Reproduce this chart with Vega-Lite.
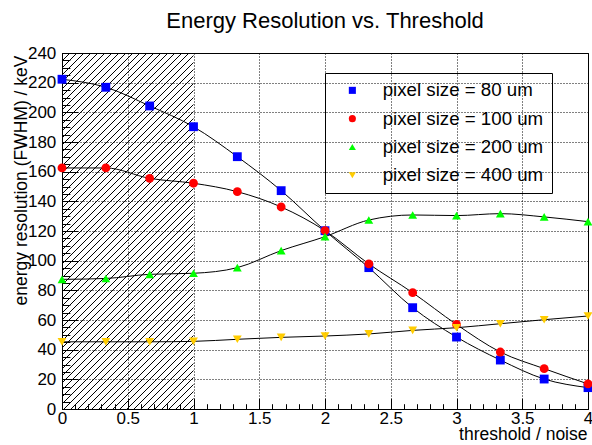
{
  "$schema": "https://vega.github.io/schema/vega-lite/v6.json",
  "width": 526,
  "height": 356,
  "autosize": {"type": "none"},
  "padding": {"left": 62, "top": 53, "right": 4, "bottom": 36},
  "background": "white",
  "config": {
    "font": "Liberation Sans",
    "view": {"stroke": "black", "strokeWidth": 1}
  },
  "title": {
    "text": "Energy Resolution vs. Threshold",
    "fontSize": 22,
    "fontWeight": "normal",
    "color": "black",
    "anchor": "middle",
    "frame": "group",
    "baseline": "alphabetic",
    "offset": 25,
    "dy": 31
  },
  "datasets": {
    "res": [
      {"series": "pixel size = 80 um", "t": 0, "res": 222.3},
      {"series": "pixel size = 80 um", "t": 0.3333, "res": 216.9},
      {"series": "pixel size = 80 um", "t": 0.6667, "res": 204.3},
      {"series": "pixel size = 80 um", "t": 1, "res": 190.3},
      {"series": "pixel size = 80 um", "t": 1.3333, "res": 170.1},
      {"series": "pixel size = 80 um", "t": 1.6667, "res": 147.2},
      {"series": "pixel size = 80 um", "t": 2, "res": 120.2},
      {"series": "pixel size = 80 um", "t": 2.3333, "res": 95.3},
      {"series": "pixel size = 80 um", "t": 2.6667, "res": 68.3},
      {"series": "pixel size = 80 um", "t": 3, "res": 48.5},
      {"series": "pixel size = 80 um", "t": 3.3333, "res": 33.0},
      {"series": "pixel size = 80 um", "t": 3.6667, "res": 20.2},
      {"series": "pixel size = 80 um", "t": 4, "res": 14.4},
      {"series": "pixel size = 100 um", "t": 0, "res": 162.5},
      {"series": "pixel size = 100 um", "t": 0.3333, "res": 162.5},
      {"series": "pixel size = 100 um", "t": 0.6667, "res": 155.5},
      {"series": "pixel size = 100 um", "t": 1, "res": 152.2},
      {"series": "pixel size = 100 um", "t": 1.3333, "res": 146.5},
      {"series": "pixel size = 100 um", "t": 1.6667, "res": 136.2},
      {"series": "pixel size = 100 um", "t": 2, "res": 120.2},
      {"series": "pixel size = 100 um", "t": 2.3333, "res": 97.8},
      {"series": "pixel size = 100 um", "t": 2.6667, "res": 78.4},
      {"series": "pixel size = 100 um", "t": 3, "res": 57.0},
      {"series": "pixel size = 100 um", "t": 3.3333, "res": 38.4},
      {"series": "pixel size = 100 um", "t": 3.6667, "res": 27.2},
      {"series": "pixel size = 100 um", "t": 4, "res": 16.9},
      {"series": "pixel size = 200 um", "t": 0, "res": 87.4},
      {"series": "pixel size = 200 um", "t": 0.3333, "res": 88.0},
      {"series": "pixel size = 200 um", "t": 0.6667, "res": 90.8},
      {"series": "pixel size = 200 um", "t": 1, "res": 91.5},
      {"series": "pixel size = 200 um", "t": 1.3333, "res": 95.3},
      {"series": "pixel size = 200 um", "t": 1.6667, "res": 106.8},
      {"series": "pixel size = 200 um", "t": 2, "res": 116.2},
      {"series": "pixel size = 200 um", "t": 2.3333, "res": 127.4},
      {"series": "pixel size = 200 um", "t": 2.6667, "res": 130.8},
      {"series": "pixel size = 200 um", "t": 3, "res": 130.4},
      {"series": "pixel size = 200 um", "t": 3.3333, "res": 131.7},
      {"series": "pixel size = 200 um", "t": 3.6667, "res": 129.5},
      {"series": "pixel size = 200 um", "t": 4, "res": 126.3},
      {"series": "pixel size = 400 um", "t": 0, "res": 45.3},
      {"series": "pixel size = 400 um", "t": 0.3333, "res": 45.3},
      {"series": "pixel size = 400 um", "t": 0.6667, "res": 45.3},
      {"series": "pixel size = 400 um", "t": 1, "res": 45.6},
      {"series": "pixel size = 400 um", "t": 1.3333, "res": 47.0},
      {"series": "pixel size = 400 um", "t": 1.6667, "res": 48.3},
      {"series": "pixel size = 400 um", "t": 2, "res": 49.2},
      {"series": "pixel size = 400 um", "t": 2.3333, "res": 50.6},
      {"series": "pixel size = 400 um", "t": 2.6667, "res": 53.0},
      {"series": "pixel size = 400 um", "t": 3, "res": 54.8},
      {"series": "pixel size = 400 um", "t": 3.3333, "res": 57.5},
      {"series": "pixel size = 400 um", "t": 3.6667, "res": 60.2},
      {"series": "pixel size = 400 um", "t": 4, "res": 62.7}
    ],
    "cut": [
      {"t": 0, "t2": 1, "res": 0, "res2": 240}
    ]
  },
  "encoding": {
    "x": {
      "field": "t",
      "type": "quantitative",
      "scale": {"domain": [0, 4], "nice": false, "zero": false},
      "axis": {
        "title": "threshold / noise",
        "values": [0, 0.1, 0.2, 0.3, 0.4, 0.5, 0.6, 0.7, 0.8, 0.9, 1, 1.1, 1.2, 1.3, 1.4, 1.5, 1.6, 1.7, 1.8, 1.9, 2, 2.1, 2.2, 2.3, 2.4, 2.5, 2.6, 2.7, 2.8, 2.9, 3, 3.1, 3.2, 3.3, 3.4, 3.5, 3.6, 3.7, 3.8, 3.9, 4],
        "format": "~g",
        "labelExpr": "abs(datum.value*2 - round(datum.value*2)) < 0.001 ? datum.label : ''",
        "tickSize": {"condition": {"test": "abs(datum.value*2 - round(datum.value*2)) < 0.001", "value": -10.7}, "value": -5.3},
        "gridOpacity": {"condition": {"test": "abs(datum.value*2 - round(datum.value*2)) < 0.001", "value": 1}, "value": 0},
        "grid": true,
        "gridColor": "black",
        "gridDash": [1, 2],
        "gridWidth": 1,
        "domainColor": "black",
        "domainWidth": 1,
        "tickColor": "black",
        "tickWidth": 1,
        "labelColor": "black",
        "labelFontSize": 17,
        "labelPadding": 12,
        "labelOverlap": false,
        "labelFlush": false,
        "labelBound": false,
        "titleColor": "black",
        "titleFontSize": 17.5,
        "titleFontWeight": "normal",
        "titleAlign": "right",
        "titleAnchor": "end",
        "titleBaseline": "alphabetic",
        "titleX": 525,
        "titleY": 30
      }
    },
    "y": {
      "field": "res",
      "type": "quantitative",
      "scale": {"domain": [0, 240], "nice": false, "zero": false},
      "axis": {
        "title": "energy resolution (FWHM) / keV",
        "values": [0, 5, 10, 15, 20, 25, 30, 35, 40, 45, 50, 55, 60, 65, 70, 75, 80, 85, 90, 95, 100, 105, 110, 115, 120, 125, 130, 135, 140, 145, 150, 155, 160, 165, 170, 175, 180, 185, 190, 195, 200, 205, 210, 215, 220, 225, 230, 235, 240],
        "format": "~g",
        "labelExpr": "datum.value % 20 == 0 ? datum.label : ''",
        "tickSize": {"condition": {"test": "datum.value % 20 == 0", "value": -15.8}, "value": -7.9},
        "gridOpacity": {"condition": {"test": "datum.value % 20 == 0", "value": 1}, "value": 0},
        "grid": true,
        "gridColor": "black",
        "gridDash": [1, 2],
        "gridWidth": 1,
        "domainColor": "black",
        "domainWidth": 1,
        "tickColor": "black",
        "tickWidth": 1,
        "labelColor": "black",
        "labelFontSize": 17,
        "labelPadding": 22,
        "labelOverlap": false,
        "labelBound": false,
        "labelFlush": false,
        "titleColor": "black",
        "titleFontSize": 17.5,
        "titleFontWeight": "normal",
        "titleAngle": -90,
        "titleAlign": "right",
        "titleAnchor": "end",
        "titleBaseline": "alphabetic",
        "titleX": -35.5,
        "titleY": 2
      }
    }
  },
  "layer": [
    {
      "data": {"name": "cut"},
      "mark": {
        "type": "rect",
        "strokeWidth": 0,
        "fill": {
          "gradient": "linear",
          "x1": 0, "y1": 0, "x2": 0.5115, "y2": 1.3846,
          "stops": [
            {"offset": 0, "color": "black"}, {"offset": 0.002, "color": "black"}, {"offset": 0.002, "color": "transparent"},
            {"offset": 0.0125, "color": "transparent"}, {"offset": 0.0125, "color": "black"}, {"offset": 0.0145, "color": "black"}, {"offset": 0.0145, "color": "transparent"},
            {"offset": 0.025, "color": "transparent"}, {"offset": 0.025, "color": "black"}, {"offset": 0.027, "color": "black"}, {"offset": 0.027, "color": "transparent"},
            {"offset": 0.0375, "color": "transparent"}, {"offset": 0.0375, "color": "black"}, {"offset": 0.0395, "color": "black"}, {"offset": 0.0395, "color": "transparent"},
            {"offset": 0.05, "color": "transparent"}, {"offset": 0.05, "color": "black"}, {"offset": 0.052, "color": "black"}, {"offset": 0.052, "color": "transparent"},
            {"offset": 0.0625, "color": "transparent"}, {"offset": 0.0625, "color": "black"}, {"offset": 0.0645, "color": "black"}, {"offset": 0.0645, "color": "transparent"},
            {"offset": 0.075, "color": "transparent"}, {"offset": 0.075, "color": "black"}, {"offset": 0.077, "color": "black"}, {"offset": 0.077, "color": "transparent"},
            {"offset": 0.0875, "color": "transparent"}, {"offset": 0.0875, "color": "black"}, {"offset": 0.0895, "color": "black"}, {"offset": 0.0895, "color": "transparent"},
            {"offset": 0.1, "color": "transparent"}, {"offset": 0.1, "color": "black"}, {"offset": 0.102, "color": "black"}, {"offset": 0.102, "color": "transparent"},
            {"offset": 0.1125, "color": "transparent"}, {"offset": 0.1125, "color": "black"}, {"offset": 0.1145, "color": "black"}, {"offset": 0.1145, "color": "transparent"},
            {"offset": 0.125, "color": "transparent"}, {"offset": 0.125, "color": "black"}, {"offset": 0.127, "color": "black"}, {"offset": 0.127, "color": "transparent"},
            {"offset": 0.1375, "color": "transparent"}, {"offset": 0.1375, "color": "black"}, {"offset": 0.1395, "color": "black"}, {"offset": 0.1395, "color": "transparent"},
            {"offset": 0.15, "color": "transparent"}, {"offset": 0.15, "color": "black"}, {"offset": 0.152, "color": "black"}, {"offset": 0.152, "color": "transparent"},
            {"offset": 0.1625, "color": "transparent"}, {"offset": 0.1625, "color": "black"}, {"offset": 0.1645, "color": "black"}, {"offset": 0.1645, "color": "transparent"},
            {"offset": 0.175, "color": "transparent"}, {"offset": 0.175, "color": "black"}, {"offset": 0.177, "color": "black"}, {"offset": 0.177, "color": "transparent"},
            {"offset": 0.1875, "color": "transparent"}, {"offset": 0.1875, "color": "black"}, {"offset": 0.1895, "color": "black"}, {"offset": 0.1895, "color": "transparent"},
            {"offset": 0.2, "color": "transparent"}, {"offset": 0.2, "color": "black"}, {"offset": 0.202, "color": "black"}, {"offset": 0.202, "color": "transparent"},
            {"offset": 0.2125, "color": "transparent"}, {"offset": 0.2125, "color": "black"}, {"offset": 0.2145, "color": "black"}, {"offset": 0.2145, "color": "transparent"},
            {"offset": 0.225, "color": "transparent"}, {"offset": 0.225, "color": "black"}, {"offset": 0.227, "color": "black"}, {"offset": 0.227, "color": "transparent"},
            {"offset": 0.2375, "color": "transparent"}, {"offset": 0.2375, "color": "black"}, {"offset": 0.2395, "color": "black"}, {"offset": 0.2395, "color": "transparent"},
            {"offset": 0.25, "color": "transparent"}, {"offset": 0.25, "color": "black"}, {"offset": 0.252, "color": "black"}, {"offset": 0.252, "color": "transparent"},
            {"offset": 0.2625, "color": "transparent"}, {"offset": 0.2625, "color": "black"}, {"offset": 0.2645, "color": "black"}, {"offset": 0.2645, "color": "transparent"},
            {"offset": 0.275, "color": "transparent"}, {"offset": 0.275, "color": "black"}, {"offset": 0.277, "color": "black"}, {"offset": 0.277, "color": "transparent"},
            {"offset": 0.2875, "color": "transparent"}, {"offset": 0.2875, "color": "black"}, {"offset": 0.2895, "color": "black"}, {"offset": 0.2895, "color": "transparent"},
            {"offset": 0.3, "color": "transparent"}, {"offset": 0.3, "color": "black"}, {"offset": 0.302, "color": "black"}, {"offset": 0.302, "color": "transparent"},
            {"offset": 0.3125, "color": "transparent"}, {"offset": 0.3125, "color": "black"}, {"offset": 0.3145, "color": "black"}, {"offset": 0.3145, "color": "transparent"},
            {"offset": 0.325, "color": "transparent"}, {"offset": 0.325, "color": "black"}, {"offset": 0.327, "color": "black"}, {"offset": 0.327, "color": "transparent"},
            {"offset": 0.3375, "color": "transparent"}, {"offset": 0.3375, "color": "black"}, {"offset": 0.3395, "color": "black"}, {"offset": 0.3395, "color": "transparent"},
            {"offset": 0.35, "color": "transparent"}, {"offset": 0.35, "color": "black"}, {"offset": 0.352, "color": "black"}, {"offset": 0.352, "color": "transparent"},
            {"offset": 0.3625, "color": "transparent"}, {"offset": 0.3625, "color": "black"}, {"offset": 0.3645, "color": "black"}, {"offset": 0.3645, "color": "transparent"},
            {"offset": 0.375, "color": "transparent"}, {"offset": 0.375, "color": "black"}, {"offset": 0.377, "color": "black"}, {"offset": 0.377, "color": "transparent"},
            {"offset": 0.3875, "color": "transparent"}, {"offset": 0.3875, "color": "black"}, {"offset": 0.3895, "color": "black"}, {"offset": 0.3895, "color": "transparent"},
            {"offset": 0.4, "color": "transparent"}, {"offset": 0.4, "color": "black"}, {"offset": 0.402, "color": "black"}, {"offset": 0.402, "color": "transparent"},
            {"offset": 0.4125, "color": "transparent"}, {"offset": 0.4125, "color": "black"}, {"offset": 0.4145, "color": "black"}, {"offset": 0.4145, "color": "transparent"},
            {"offset": 0.425, "color": "transparent"}, {"offset": 0.425, "color": "black"}, {"offset": 0.427, "color": "black"}, {"offset": 0.427, "color": "transparent"},
            {"offset": 0.4375, "color": "transparent"}, {"offset": 0.4375, "color": "black"}, {"offset": 0.4395, "color": "black"}, {"offset": 0.4395, "color": "transparent"},
            {"offset": 0.45, "color": "transparent"}, {"offset": 0.45, "color": "black"}, {"offset": 0.452, "color": "black"}, {"offset": 0.452, "color": "transparent"},
            {"offset": 0.4625, "color": "transparent"}, {"offset": 0.4625, "color": "black"}, {"offset": 0.4645, "color": "black"}, {"offset": 0.4645, "color": "transparent"},
            {"offset": 0.475, "color": "transparent"}, {"offset": 0.475, "color": "black"}, {"offset": 0.477, "color": "black"}, {"offset": 0.477, "color": "transparent"},
            {"offset": 0.4875, "color": "transparent"}, {"offset": 0.4875, "color": "black"}, {"offset": 0.4895, "color": "black"}, {"offset": 0.4895, "color": "transparent"},
            {"offset": 0.5, "color": "transparent"}, {"offset": 0.5, "color": "black"}, {"offset": 0.502, "color": "black"}, {"offset": 0.502, "color": "transparent"},
            {"offset": 0.5125, "color": "transparent"}, {"offset": 0.5125, "color": "black"}, {"offset": 0.5145, "color": "black"}, {"offset": 0.5145, "color": "transparent"},
            {"offset": 0.525, "color": "transparent"}, {"offset": 0.525, "color": "black"}, {"offset": 0.527, "color": "black"}, {"offset": 0.527, "color": "transparent"},
            {"offset": 0.5375, "color": "transparent"}, {"offset": 0.5375, "color": "black"}, {"offset": 0.5395, "color": "black"}, {"offset": 0.5395, "color": "transparent"},
            {"offset": 0.55, "color": "transparent"}, {"offset": 0.55, "color": "black"}, {"offset": 0.552, "color": "black"}, {"offset": 0.552, "color": "transparent"},
            {"offset": 0.5625, "color": "transparent"}, {"offset": 0.5625, "color": "black"}, {"offset": 0.5645, "color": "black"}, {"offset": 0.5645, "color": "transparent"},
            {"offset": 0.575, "color": "transparent"}, {"offset": 0.575, "color": "black"}, {"offset": 0.577, "color": "black"}, {"offset": 0.577, "color": "transparent"},
            {"offset": 0.5875, "color": "transparent"}, {"offset": 0.5875, "color": "black"}, {"offset": 0.5895, "color": "black"}, {"offset": 0.5895, "color": "transparent"},
            {"offset": 0.6, "color": "transparent"}, {"offset": 0.6, "color": "black"}, {"offset": 0.602, "color": "black"}, {"offset": 0.602, "color": "transparent"},
            {"offset": 0.6125, "color": "transparent"}, {"offset": 0.6125, "color": "black"}, {"offset": 0.6145, "color": "black"}, {"offset": 0.6145, "color": "transparent"},
            {"offset": 0.625, "color": "transparent"}, {"offset": 0.625, "color": "black"}, {"offset": 0.627, "color": "black"}, {"offset": 0.627, "color": "transparent"},
            {"offset": 0.6375, "color": "transparent"}, {"offset": 0.6375, "color": "black"}, {"offset": 0.6395, "color": "black"}, {"offset": 0.6395, "color": "transparent"},
            {"offset": 0.65, "color": "transparent"}, {"offset": 0.65, "color": "black"}, {"offset": 0.652, "color": "black"}, {"offset": 0.652, "color": "transparent"},
            {"offset": 0.6625, "color": "transparent"}, {"offset": 0.6625, "color": "black"}, {"offset": 0.6645, "color": "black"}, {"offset": 0.6645, "color": "transparent"},
            {"offset": 0.675, "color": "transparent"}, {"offset": 0.675, "color": "black"}, {"offset": 0.677, "color": "black"}, {"offset": 0.677, "color": "transparent"},
            {"offset": 0.6875, "color": "transparent"}, {"offset": 0.6875, "color": "black"}, {"offset": 0.6895, "color": "black"}, {"offset": 0.6895, "color": "transparent"},
            {"offset": 0.7, "color": "transparent"}, {"offset": 0.7, "color": "black"}, {"offset": 0.702, "color": "black"}, {"offset": 0.702, "color": "transparent"},
            {"offset": 0.7125, "color": "transparent"}, {"offset": 0.7125, "color": "black"}, {"offset": 0.7145, "color": "black"}, {"offset": 0.7145, "color": "transparent"},
            {"offset": 0.725, "color": "transparent"}, {"offset": 0.725, "color": "black"}, {"offset": 0.727, "color": "black"}, {"offset": 0.727, "color": "transparent"},
            {"offset": 0.7375, "color": "transparent"}, {"offset": 0.7375, "color": "black"}, {"offset": 0.7395, "color": "black"}, {"offset": 0.7395, "color": "transparent"},
            {"offset": 0.75, "color": "transparent"}, {"offset": 0.75, "color": "black"}, {"offset": 0.752, "color": "black"}, {"offset": 0.752, "color": "transparent"},
            {"offset": 0.7625, "color": "transparent"}, {"offset": 0.7625, "color": "black"}, {"offset": 0.7645, "color": "black"}, {"offset": 0.7645, "color": "transparent"},
            {"offset": 0.775, "color": "transparent"}, {"offset": 0.775, "color": "black"}, {"offset": 0.777, "color": "black"}, {"offset": 0.777, "color": "transparent"},
            {"offset": 0.7875, "color": "transparent"}, {"offset": 0.7875, "color": "black"}, {"offset": 0.7895, "color": "black"}, {"offset": 0.7895, "color": "transparent"},
            {"offset": 0.8, "color": "transparent"}, {"offset": 0.8, "color": "black"}, {"offset": 0.802, "color": "black"}, {"offset": 0.802, "color": "transparent"},
            {"offset": 0.8125, "color": "transparent"}, {"offset": 0.8125, "color": "black"}, {"offset": 0.8145, "color": "black"}, {"offset": 0.8145, "color": "transparent"},
            {"offset": 0.825, "color": "transparent"}, {"offset": 0.825, "color": "black"}, {"offset": 0.827, "color": "black"}, {"offset": 0.827, "color": "transparent"},
            {"offset": 0.8375, "color": "transparent"}, {"offset": 0.8375, "color": "black"}, {"offset": 0.8395, "color": "black"}, {"offset": 0.8395, "color": "transparent"},
            {"offset": 0.85, "color": "transparent"}, {"offset": 0.85, "color": "black"}, {"offset": 0.852, "color": "black"}, {"offset": 0.852, "color": "transparent"},
            {"offset": 0.8625, "color": "transparent"}, {"offset": 0.8625, "color": "black"}, {"offset": 0.8645, "color": "black"}, {"offset": 0.8645, "color": "transparent"},
            {"offset": 0.875, "color": "transparent"}, {"offset": 0.875, "color": "black"}, {"offset": 0.877, "color": "black"}, {"offset": 0.877, "color": "transparent"},
            {"offset": 1, "color": "transparent"}
          ]
        }
      },
      "encoding": {
        "x2": {"field": "t2"},
        "y2": {"field": "res2"}
      }
    },
    {
      "data": {"name": "res"},
      "mark": {"type": "line", "color": "black", "strokeWidth": 1, "interpolate": "monotone"},
      "encoding": {
        "detail": {"field": "series", "type": "nominal"}
      }
    },
    {
      "data": {"name": "res"},
      "mark": {"type": "point", "filled": true, "opacity": 1, "size": 78, "strokeWidth": 0},
      "encoding": {
        "color": {
          "field": "series",
          "type": "nominal",
          "scale": {
            "domain": ["pixel size = 80 um", "pixel size = 100 um", "pixel size = 200 um", "pixel size = 400 um"],
            "range": ["#0000ff", "#ff0000", "#00ff00", "#ffcc00"]
          },
          "legend": {
            "orient": "none",
            "legendX": 263,
            "legendY": 20,
            "title": null,
            "strokeColor": "black",
            "padding": 8,
            "labelFontSize": 18.7,
            "labelColor": "black",
            "labelLimit": 400,
            "symbolSize": 50,
            "symbolStrokeWidth": 0,
            "symbolOffset": 10,
            "labelOffset": 21,
            "rowPadding": 8.3
          }
        },
        "shape": {
          "field": "series",
          "type": "nominal",
          "scale": {
            "domain": ["pixel size = 80 um", "pixel size = 100 um", "pixel size = 200 um", "pixel size = 400 um"],
            "range": ["square", "circle", "triangle-up", "triangle-down"]
          }
        }
      }
    }
  ]
}
